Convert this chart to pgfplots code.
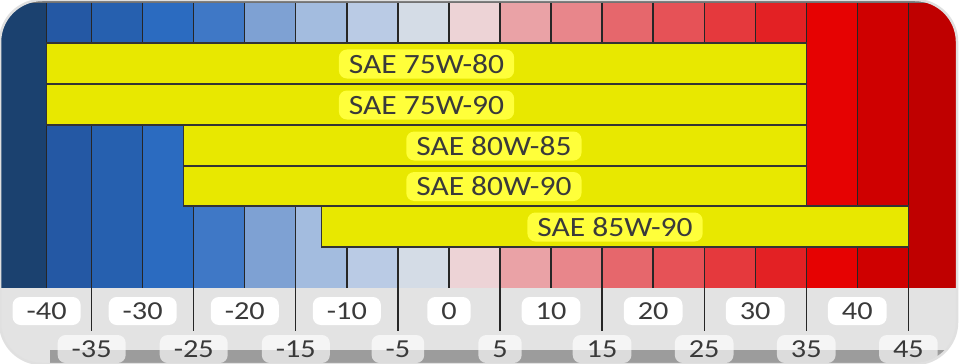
\documentclass[border=0pt]{standalone}
\usepackage{pgfplots}
\pgfplotsset{compat=1.18}
\usepackage{fontspec}
\setmainfont{Carlito}
\newfontfamily\lblfont[FakeStretch=1.13]{Carlito}
\newfontfamily\tkfont[FakeStretch=1.17]{Carlito}
\definecolor{b1}{HTML}{1B416F}
\definecolor{b2}{HTML}{2458A4}
\definecolor{b3}{HTML}{2660AF}
\definecolor{b4}{HTML}{2B6BC0}
\definecolor{b5}{HTML}{3F78C6}
\definecolor{b6}{HTML}{7EA1D3}
\definecolor{b7}{HTML}{A3BCDF}
\definecolor{b8}{HTML}{BACBE5}
\definecolor{b9}{HTML}{D4DCE6}
\definecolor{r1}{HTML}{EDD3D6}
\definecolor{r2}{HTML}{EAA2A6}
\definecolor{r3}{HTML}{E8868B}
\definecolor{r4}{HTML}{E6676C}
\definecolor{r5}{HTML}{E65257}
\definecolor{r6}{HTML}{E5393D}
\definecolor{r7}{HTML}{E32124}
\definecolor{r8}{HTML}{E60202}
\definecolor{r9}{HTML}{CF0000}
\definecolor{r10}{HTML}{BF0000}
\definecolor{barY}{HTML}{E8E800}
\definecolor{lblY}{HTML}{FFFF3A}
\definecolor{txt}{HTML}{3A3A3A}
\definecolor{lgray}{HTML}{E3E3E3}
\definecolor{dgray}{HTML}{9C9C9C}
\tikzset{lbl/.style={fill=lblY, rounded corners=8bp, text=txt, inner xsep=10bp, inner ysep=5.5bp,
  text height=18bp, text depth=0pt, font=\lblfont\fontsize{28}{30}\selectfont},
  tk/.style={fill=white, rounded corners=8bp, text=txt, inner xsep=14bp, inner ysep=5.7bp,
  text height=16.6bp, text depth=0pt, font=\tkfont\fontsize{26}{28}\selectfont},
  tk2/.style={tk, fill=white, fill opacity=0.65, text opacity=1}}
\begin{document}
\begin{tikzpicture}
\begin{axis}[scale only axis, width=960bp, height=364bp,
  x coord trafo/.code={\pgfmathparse{max(#1,-35)+0.882*min(#1+35,0)}},
  x coord inv trafo/.code={\pgfmathparse{max(#1,-35)+min(#1+35,0)/0.882}},
  xmin=-45.18, xmax=50.06, ymin=0, ymax=364, y dir=reverse,
  hide axis, clip=true, unbounded coords=jump]
% light gray bottom area
\addplot[fill=lgray, draw=none] coordinates {(-46,286)(51,286)(51,364)(-46,364)} -- cycle;
\addplot[fill=dgray, draw=none] coordinates {(-39.6,350)(51,350)(51,364)(-39.6,364)} -- cycle;
% colour bands
\addplot[fill=b1, draw=none] coordinates {(-46,0)(-40,0)(-40,288)(-46,288)} -- cycle;
\addplot[fill=b2, draw=none] coordinates {(-40,0)(-35,0)(-35,288)(-40,288)} -- cycle;
\addplot[fill=b3, draw=none] coordinates {(-35,0)(-30,0)(-30,288)(-35,288)} -- cycle;
\addplot[fill=b4, draw=none] coordinates {(-30,0)(-25,0)(-25,288)(-30,288)} -- cycle;
\addplot[fill=b5, draw=none] coordinates {(-25,0)(-20,0)(-20,288)(-25,288)} -- cycle;
\addplot[fill=b6, draw=none] coordinates {(-20,0)(-15,0)(-15,288)(-20,288)} -- cycle;
\addplot[fill=b7, draw=none] coordinates {(-15,0)(-10,0)(-10,288)(-15,288)} -- cycle;
\addplot[fill=b8, draw=none] coordinates {(-10,0)(-5,0)(-5,288)(-10,288)} -- cycle;
\addplot[fill=b9, draw=none] coordinates {(-5,0)(0,0)(0,288)(-5,288)} -- cycle;
\addplot[fill=r1, draw=none] coordinates {(0,0)(5,0)(5,288)(0,288)} -- cycle;
\addplot[fill=r2, draw=none] coordinates {(5,0)(10,0)(10,288)(5,288)} -- cycle;
\addplot[fill=r3, draw=none] coordinates {(10,0)(15,0)(15,288)(10,288)} -- cycle;
\addplot[fill=r4, draw=none] coordinates {(15,0)(20,0)(20,288)(15,288)} -- cycle;
\addplot[fill=r5, draw=none] coordinates {(20,0)(25,0)(25,288)(20,288)} -- cycle;
\addplot[fill=r6, draw=none] coordinates {(25,0)(30,0)(30,288)(25,288)} -- cycle;
\addplot[fill=r7, draw=none] coordinates {(30,0)(35,0)(35,288)(30,288)} -- cycle;
\addplot[fill=r8, draw=none] coordinates {(35,0)(40,0)(40,288)(35,288)} -- cycle;
\addplot[fill=r9, draw=none] coordinates {(40,0)(45,0)(45,288)(40,288)} -- cycle;
\addplot[fill=r10, draw=none] coordinates {(45,0)(51,0)(51,288)(45,288)} -- cycle;
% top strip
\addplot[fill=black!55, draw=none] coordinates {(-46,0)(51,0)(51,3)(-46,3)} -- cycle;
% grid lines
\addplot[black!85, line width=1.3bp] coordinates {
 (-40,3)(-40,288) (-40,nan)
 (-35,3)(-35,331) (-35,nan)
 (-30,3)(-30,288) (-30,nan)
 (-25,3)(-25,331) (-25,nan)
 (-20,3)(-20,288) (-20,nan)
 (-15,3)(-15,331) (-15,nan)
 (-10,3)(-10,288) (-10,nan)
 (-5,3)(-5,331) (-5,nan)
 (0,3)(0,288) (0,nan)
 (5,3)(5,331) (5,nan)
 (10,3)(10,288) (10,nan)
 (15,3)(15,331) (15,nan)
 (20,3)(20,288) (20,nan)
 (25,3)(25,331) (25,nan)
 (30,3)(30,288) (30,nan)
 (35,3)(35,331) (35,nan)
 (40,3)(40,288) (40,nan)
 (45,3)(45,331)};
% yellow bars
\addplot[fill=barY, draw=black!80, line width=1.2bp] coordinates {(-40,43)(35,43)(35,84)(-40,84)} -- cycle;
\addplot[fill=barY, draw=black!80, line width=1.2bp] coordinates {(-40,84)(35,84)(35,125)(-40,125)} -- cycle;
\addplot[fill=barY, draw=black!80, line width=1.2bp] coordinates {(-26,125)(35,125)(35,166)(-26,166)} -- cycle;
\addplot[fill=barY, draw=black!80, line width=1.2bp] coordinates {(-26,166)(35,166)(35,206)(-26,206)} -- cycle;
\addplot[fill=barY, draw=black!80, line width=1.2bp] coordinates {(-12.5,206)(45,206)(45,247)(-12.5,247)} -- cycle;
% bar labels
\node[lbl] at (axis cs:-2.2,64) {SAE 75W-80};
\node[lbl] at (axis cs:-2.2,105) {SAE 75W-90};
\node[lbl] at (axis cs:4.4,146) {SAE 80W-85};
\node[lbl] at (axis cs:4.4,186.5) {SAE 80W-90};
\node[lbl] at (axis cs:16.27,227) {SAE 85W-90};
% tick labels
\pgfplotsinvokeforeach{-40,-30,-20,-10,0,10,20,30,40}{
  \node[tk] at (axis cs:#1,311) {#1};}
\pgfplotsinvokeforeach{-35,-25,-15,-5,5,15,25,35,45}{
  \node[tk2] at (axis cs:#1,349) {#1};}
% rounded frame
\fill[white, even odd rule] (rel axis cs:-0.01,-0.02) rectangle (rel axis cs:1.01,1.02)
  [rounded corners=42bp] (rel axis cs:0,0) rectangle (rel axis cs:0.9969,1);
\draw[black!12, line width=2.5bp, rounded corners=42bp] (rel axis cs:0,0) rectangle (rel axis cs:0.9969,1);
\end{axis}
\pgfresetboundingbox
\useasboundingbox (current axis.south west) rectangle (current axis.north east);
\end{tikzpicture}
\end{document}
